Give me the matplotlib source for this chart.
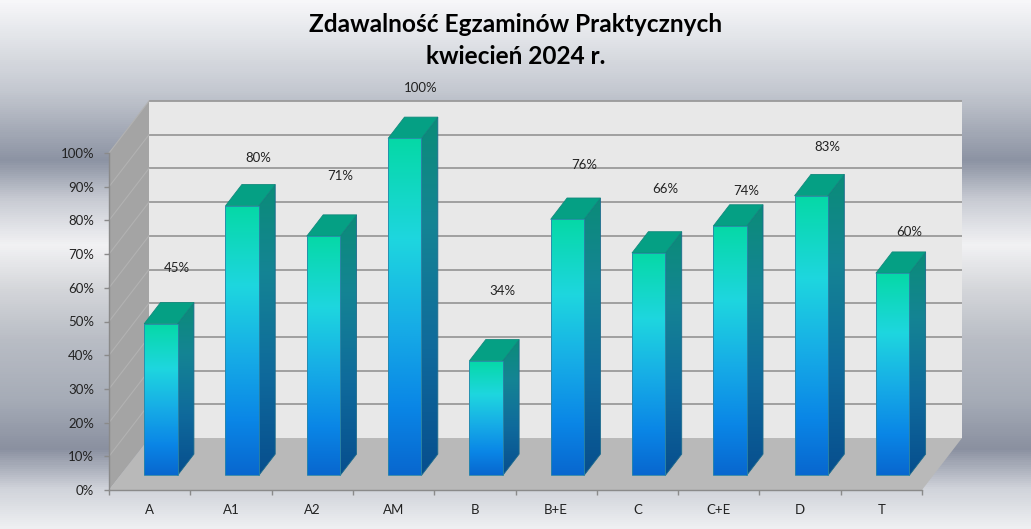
import numpy as np
import matplotlib
matplotlib.use("Agg")
import matplotlib.pyplot as plt
from matplotlib.patches import Polygon
from matplotlib.colors import LinearSegmentedColormap

# ---- data ----
categories = ["A", "A1", "A2", "AM", "B", "B+E", "C", "C+E", "D", "T"]
pass_rate = [45, 80, 71, 100, 34, 76, 66, 74, 83, 60]   # [%]
# how far (px) the value label sits above the back edge of the bar top
label_lift = [34, 27, 39, 29, 49, 33, 43, 14, 27, 20]
yticks = [0, 10, 20, 30, 40, 50, 60, 70, 80, 90, 100]
title_lines = ["Zdawalność Egzaminów Praktycznych", "kwiecień 2024 r."]

W, H = 1031, 529
plt.rcParams["font.family"] = ["Lato", "DejaVu Sans"]

fig = plt.figure(figsize=(W / 100, H / 100), dpi=100)

# metallic background (vertical bands)
bg_stops = [(0, "#f7f7f9"), (30, "#e6e8ec"), (90, "#c4c8d0"), (160, "#8c93a3"),
            (200, "#c9ccd4"), (245, "#f2f2f4"), (290, "#d4d6da"), (340, "#b9bdc5"),
            (400, "#a6acb7"), (450, "#8a90a0"), (490, "#d0d3da"), (529, "#eeeff2")]
bg_cmap = LinearSegmentedColormap.from_list("bg", [(y / H, c) for y, c in bg_stops])
bg = fig.add_axes([0, 0, 1, 1])
bg.imshow(np.linspace(0, 1, H)[:, None], cmap=bg_cmap, aspect="auto",
          extent=(0, 1, 0, 1), origin="upper")
bg.axis("off")

# front plane of the 3D box
ax = fig.add_axes([109 / W, (H - 490) / H, 813 / W, 337 / H])
ax.set_xlim(0, len(categories))
ax.set_ylim(0, 100)
ax.patch.set_visible(False)
ppx = 813 / len(categories)   # px per category
ppy = 337 / 100               # px per percent
DX = 40 / ppx                 # depth vector in data units
DY = 52 / ppy
n = len(categories)

def shape(pts, fc, ec="none", lw=0, z=1):
    p = Polygon(pts, closed=True, facecolor=fc, edgecolor=ec, linewidth=lw,
                clip_on=False, zorder=z, transform=ax.transData)
    ax.add_patch(p)
    return p

def grad_fill(pts, cmap, z):
    poly = Polygon(pts, closed=True, transform=ax.transData)
    xs = [p[0] for p in pts]
    ys = [p[1] for p in pts]
    im = ax.imshow(np.linspace(0, 1, 256)[:, None], cmap=cmap, aspect="auto",
                   extent=(min(xs), max(xs), min(ys), max(ys)), origin="upper",
                   zorder=z, interpolation="bilinear")
    im.set_clip_box(fig.bbox)
    im.set_clip_path(poly)

# walls + floor
shape([(DX, DY), (n + DX, DY), (n + DX, 100 + DY), (DX, 100 + DY)], "#e8e8e8", z=0.5)
shape([(0, 0), (0, 100), (DX, 100 + DY), (DX, DY)], "#a4a4a4", z=0.6)
shape([(0, 0), (n, 0), (n + DX, DY), (DX, DY)], "#b9b9b9", z=0.6)
for t in yticks[1:]:
    ax.plot([DX, n + DX], [t + DY, t + DY], color="#9a9a9a", lw=1.3, zorder=0.7,
            clip_on=False, solid_capstyle="butt")
    ax.plot([0, DX], [t, t + DY], color="#b2b2b2", lw=0.8, zorder=0.7, clip_on=False)

# bars
front_cmap = LinearSegmentedColormap.from_list(
    "front", [(0, "#05d9a6"), (0.3, "#1ed6df"), (0.55, "#17aee6"),
              (0.8, "#0a86e6"), (1, "#0867cf")])
side_cmap = LinearSegmentedColormap.from_list(
    "side", [(0, "#0b8c78"), (0.3, "#148494"), (0.65, "#0f6a9c"), (1, "#074e8e")])
bw = 0.41
d0, d1 = 0.28, 0.69
for i, v in enumerate(pass_rate):
    xl = i + 0.5 - bw / 2
    xr = i + 0.5 + bw / 2
    front = [(xl + d0 * DX, d0 * DY), (xr + d0 * DX, d0 * DY),
             (xr + d0 * DX, v + d0 * DY), (xl + d0 * DX, v + d0 * DY)]
    side = [(xr + d0 * DX, d0 * DY), (xr + d0 * DX, v + d0 * DY),
            (xr + d1 * DX, v + d1 * DY), (xr + d1 * DX, d1 * DY)]
    top = [(xl + d0 * DX, v + d0 * DY), (xr + d0 * DX, v + d0 * DY),
           (xr + d1 * DX, v + d1 * DY), (xl + d1 * DX, v + d1 * DY)]
    grad_fill(side, side_cmap, 3)
    shape(side, "none", "#1b6a8c", 0.6, 3.1)
    shape(top, "#05a084", "#118a7c", 0.6, 3.2)
    grad_fill(front, front_cmap, 3.3)
    shape(front, "none", "#2b86a8", 0.6, 3.4)
    ax.annotate(f"{v}%", xy=(i + 0.5 + d1 * DX, v + d1 * DY), xytext=(0, label_lift[i]),
                textcoords="offset pixels", ha="center", va="center",
                fontsize=9.5, color="#222222", annotation_clip=False, zorder=5)

# axes
for s in ["top", "right"]:
    ax.spines[s].set_visible(False)
for s in ["left", "bottom"]:
    ax.spines[s].set_color("#8a8a8a")
    ax.spines[s].set_linewidth(1.0)
ax.set_yticks(yticks)
ax.set_yticklabels([f"{t}%" for t in yticks])
ax.set_xticks([i + 0.5 for i in range(n)])
ax.set_xticklabels(categories)
ax.set_xticks(range(n + 1), minor=True)
ax.tick_params(axis="y", direction="out", length=3.6, width=1, color="#8a8a8a",
               pad=7, labelsize=9.5, labelcolor="#222222")
ax.tick_params(axis="x", which="major", length=0, pad=10, labelsize=9.5,
               labelcolor="#222222")
ax.tick_params(axis="x", which="minor", direction="out", length=3.6, width=1,
               color="#8a8a8a")

fig.text(0.5, 1 - 25 / H, title_lines[0], ha="center", va="center",
         fontsize=17.6, fontweight="bold", color="#000000")
fig.text(0.5, 1 - 57 / H, title_lines[1], ha="center", va="center",
         fontsize=17.6, fontweight="bold", color="#000000")

fig.savefig("out.png", dpi=100)
